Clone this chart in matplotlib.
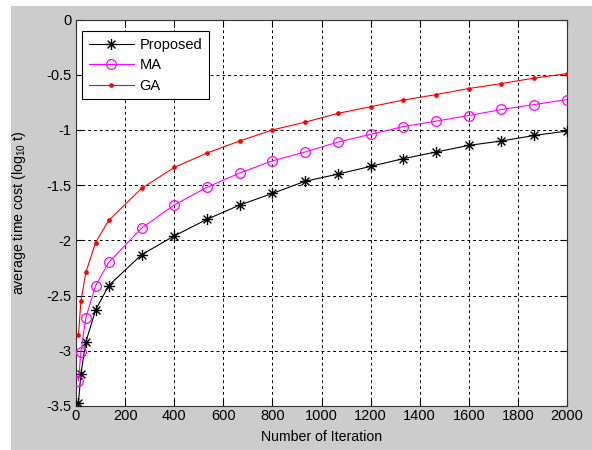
import numpy as np
import matplotlib
matplotlib.use("Agg")
import matplotlib.pyplot as plt
from matplotlib.path import Path
from matplotlib.patches import Rectangle

plt.rcParams['font.family'] = ['Liberation Sans', 'DejaVu Sans']
plt.rcParams['mathtext.default'] = 'regular'
plt.rcParams['axes.unicode_minus'] = False

# data
iterations = [10, 20, 40, 80, 133, 267, 400, 533, 667, 800, 933, 1067,
              1200, 1333, 1467, 1600, 1733, 1867, 2000]
proposed = [-3.47, -3.21, -2.92, -2.63, -2.41, -2.13, -1.96, -1.81, -1.68,
            -1.575, -1.465, -1.40, -1.33, -1.26, -1.20, -1.14, -1.10, -1.05, -1.01]
ma = [-3.27, -3.01, -2.70, -2.41, -2.20, -1.89, -1.68, -1.52, -1.39,
      -1.28, -1.20, -1.11, -1.04, -0.97, -0.92, -0.87, -0.815, -0.77, -0.725]
ga = [-2.86, -2.55, -2.29, -2.02, -1.82, -1.53, -1.34, -1.21, -1.10,
      -1.00, -0.93, -0.85, -0.79, -0.73, -0.68, -0.625, -0.58, -0.53, -0.49]

x_ticks = list(range(0, 2001, 200))
y_ticks = [-3.5, -3, -2.5, -2, -1.5, -1, -0.5, 0]
y_tick_labels = ['-3.5', '-3', '-2.5', '-2', '-1.5', '-1', '-0.5', '0']

# matlab style asterisk marker
c = 0.7071
asterisk = Path([(-1, 0), (1, 0), (0, -1), (0, 1), (-c, -c), (c, c), (-c, c), (c, -c)],
                [Path.MOVETO, Path.LINETO] * 4)

fig = plt.figure(figsize=(5.92, 4.5), dpi=100)
fig.patch.set_facecolor('white')
fig.patches.append(Rectangle((11 / 592, 0), 1, 1 - 6 / 450, transform=fig.transFigure,
                             facecolor='#cccccc', edgecolor='none', zorder=-10))

ax = fig.add_axes([76 / 592, 44 / 450, 491 / 592, 386.5 / 450])
ax.set_facecolor('white')

ax.plot(iterations, proposed, color='black', linewidth=0.8, marker=asterisk,
        markersize=8, markeredgewidth=1.0, label='Proposed', zorder=3)
ax.plot(iterations, ma, color='#ff00ff', linewidth=0.8, marker='o',
        markersize=7, markerfacecolor='none', markeredgewidth=0.9, label='MA', zorder=3)
ax.plot(iterations, ga, color='red', linewidth=0.8, marker='o',
        markersize=3.4, markeredgewidth=0, label='GA', zorder=3)

ax.set_xlim(0, 2000)
ax.set_ylim(-3.5, 0)
ax.set_xticks(x_ticks)
ax.set_xticklabels([str(v) for v in x_ticks])
ax.set_yticks(y_ticks)
ax.set_yticklabels(y_tick_labels)
ax.tick_params(direction='in', length=5, width=0.8, top=True, right=True,
               labelsize=10.5, colors='black')
ax.tick_params(axis='x', pad=2.5)
ax.tick_params(axis='y', pad=3.5)
ax.grid(True, color='black', linestyle=(0, (3, 3)), linewidth=0.7)
for sp in ax.spines.values():
    sp.set_linewidth(0.8)
    sp.set_color('#333333')

ax.set_xlabel('Number of Iteration', fontsize=10.2)
ax.xaxis.set_label_coords(0.5, -0.062)
ax.set_ylabel('average time cost (log$_{10}$ t)', fontsize=10.2)
ax.yaxis.set_label_coords(-0.097, 0.5)

leg = ax.legend(loc='upper left', bbox_to_anchor=(0.0122, 0.970), borderaxespad=0,
                fontsize=10.5, handlelength=3.1, handletextpad=0.4, labelspacing=0.45,
                borderpad=0.45, fancybox=False, framealpha=1)
leg.get_frame().set_edgecolor('black')
leg.get_frame().set_linewidth(0.8)

fig.savefig('out.png', dpi=100, facecolor=fig.get_facecolor())
